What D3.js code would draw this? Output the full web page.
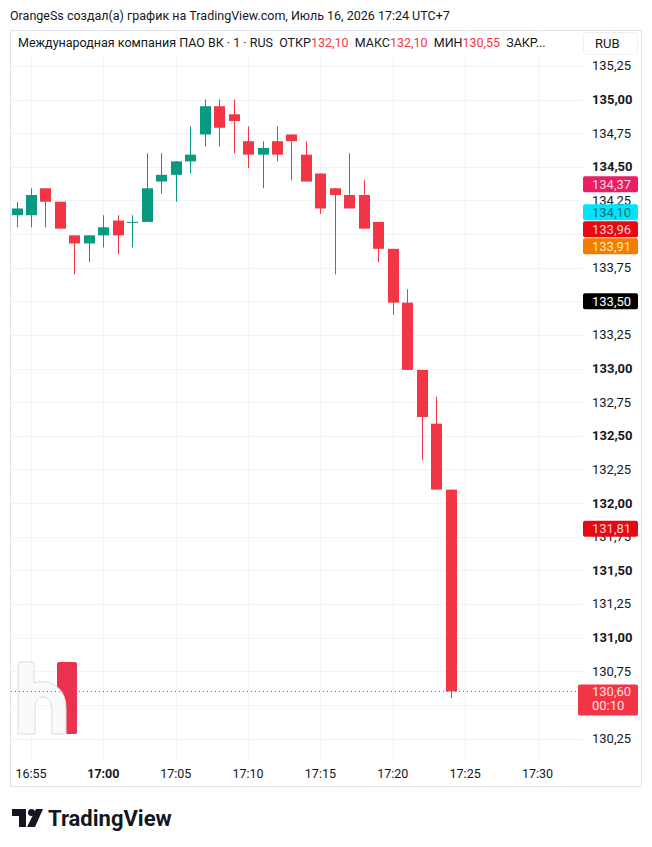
<!DOCTYPE html>
<html>
<head>
<meta charset="utf-8">
<script src="https://cdnjs.cloudflare.com/ajax/libs/d3/7.8.5/d3.min.js"></script>
<style>
  html, body { margin: 0; padding: 0; background: #fff; }
  svg { display: block; font-family: Roboto, "Noto Sans", sans-serif; }
</style>
</head>
<body>
<div id="chart"></div>
<script>
// 1-minute bars, VK, 16:54 - 17:24
const times = ['16:54', '16:55', '16:56', '16:57', '16:58', '16:59', '17:00', '17:01', '17:02', '17:03',
    '17:04', '17:05', '17:06', '17:07', '17:08', '17:09', '17:10', '17:11', '17:12', '17:13',
    '17:14', '17:15', '17:16', '17:17', '17:18', '17:19', '17:20', '17:21', '17:22', '17:23', '17:24'];
const opens = [134.14, 134.14, 134.34, 134.24, 133.99, 133.93, 133.99, 134.10, 134.09, 134.09,
    134.39, 134.44, 134.54, 134.74, 134.95, 134.89, 134.69, 134.59, 134.69, 134.74,
    134.59, 134.45, 134.34, 134.29, 134.29, 134.09, 133.89, 133.49, 132.99, 132.59, 132.10];
const highs = [134.24, 134.34, 134.34, 134.24, 133.99, 133.99, 134.14, 134.14, 134.14, 134.60,
    134.60, 134.54, 134.80, 135.00, 135.00, 135.00, 134.80, 134.69, 134.80, 134.74,
    134.69, 134.45, 134.34, 134.60, 134.40, 134.09, 133.89, 133.59, 132.99, 132.79, 132.10];
const lows = [134.05, 134.05, 134.05, 134.04, 133.70, 133.79, 133.90, 133.85, 133.90, 134.09,
    134.30, 134.24, 134.45, 134.65, 134.65, 134.60, 134.49, 134.34, 134.54, 134.40,
    134.39, 134.15, 133.70, 134.19, 134.04, 133.79, 133.40, 132.99, 132.32, 132.10, 130.55];
const closes = [134.19, 134.29, 134.24, 134.04, 133.93, 133.99, 134.05, 133.99, 134.09, 134.34,
    134.44, 134.54, 134.59, 134.95, 134.79, 134.84, 134.59, 134.64, 134.59, 134.69,
    134.39, 134.19, 134.29, 134.19, 134.04, 133.89, 133.49, 132.99, 132.64, 132.10, 130.60];

const priceTicks = [130.25, 130.50, 130.75, 131.00, 131.25, 131.50, 131.75, 132.00, 132.25, 132.50,
    132.75, 133.00, 133.25, 133.50, 133.75, 134.00, 134.25, 134.50, 134.75, 135.00, 135.25];
const timeTicks = ['16:55', '17:00', '17:05', '17:10', '17:15', '17:20', '17:25', '17:30'];

// indicator price labels on the scale
const markerValues = [134.37, 134.10, 133.96, 133.91, 133.50, 131.81];
const markerColors = ['#e91e63', '#00e5ff', '#e50914', '#f57c00', '#000000', '#e50914'];
const markerTextColors = ['#ffd6e4', '#0b6b76', '#ffd0d0', '#ffe7b0', '#ffffff', '#ffd0d0'];

const lastPrice = 130.60;
const countdown = '00:10';
const legendOpen = 132.10, legendHigh = 132.10, legendLow = 130.55;

const width = 652, height = 847;
const up = '#089981', down = '#f23645', grid = '#f0f3fa', textColor = '#131722';

const fmt = v => d3.format('.2f')(v).replace('.', ',');
const parse = d3.timeParse('%H:%M');

const bars = times.map((t, i) => ({
    time: parse(t), open: opens[i], high: highs[i], low: lows[i], close: closes[i]
}));

const svg = d3.select('#chart').append('svg')
    .attr('width', width)
    .attr('height', height);

const pane = { left: 10, top: 30, right: 583, bottom: 760 };

const x = d3.scaleTime()
    .domain([parse('16:55'), parse('17:30')])
    .range([31, 537.5]);
const y = d3.scaleLinear()
    .domain([130.25, 135])
    .range([738.5, 99.5]);

// title
svg.append('text')
    .attr('x', 10).attr('y', 20)
    .attr('font-size', 12.5).attr('fill', textColor)
    .text('OrangeSs создал(а) график на TradingView.com, Июль 16, 2026 17:24 UTC+7');

// frame
svg.append('rect')
    .attr('x', 10.5).attr('y', 30.5)
    .attr('width', 631).attr('height', 756)
    .attr('fill', 'none').attr('stroke', '#e0e3eb');

//grid
const gridG = svg.append('g');
gridG.selectAll('.hgrid').data(priceTicks).enter().append('line')
    .attr('class', 'hgrid')
    .attr('x1', pane.left + 1).attr('x2', pane.right)
    .attr('y1', d => Math.round(y(d)) + 0.5).attr('y2', d => Math.round(y(d)) + 0.5)
    .attr('stroke', grid);
gridG.selectAll('.vgrid').data(timeTicks).enter().append('line')
    .attr('class', 'vgrid')
    .attr('x1', d => Math.round(x(parse(d))) + 0.5).attr('x2', d => Math.round(x(parse(d))) + 0.5)
    .attr('y1', pane.top + 1).attr('y2', pane.bottom)
    .attr('stroke', grid);

// watermark logo
const logo = svg.append('g');
logo.append('rect')
    .attr('x', 57).attr('y', 662).attr('width', 20).attr('height', 72).attr('rx', 2)
    .attr('fill', '#e8324f');
logo.append('path')
    .attr('d', 'M20,662 H32 Q34,662 34,664 V683 C44,679 66,683 66,708 V734 H52 V712 C52,701 48,697 43,697 C38,697 35,701 35,706 V734 H18 V664 Q18,662 20,662 Z')
    .attr('fill', '#fafafa').attr('stroke', '#dcdcdc').attr('stroke-width', 1);

// last price line
svg.append('line')
    .attr('x1', pane.left + 1).attr('x2', pane.right)
    .attr('y1', Math.round(y(lastPrice)) + 0.5).attr('y2', Math.round(y(lastPrice)) + 0.5)
    .attr('stroke', down).attr('stroke-dasharray', '1 3');

// candles
const candles = svg.append('g').selectAll('g').data(bars).enter().append('g');
candles.append('line')
    .attr('x1', d => Math.round(x(d.time)) + 0.5).attr('x2', d => Math.round(x(d.time)) + 0.5)
    .attr('y1', d => y(d.high)).attr('y2', d => y(d.low))
    .attr('stroke', d => d.close >= d.open ? up : down);
candles.append('rect')
    .attr('x', d => Math.round(x(d.time)) - 5)
    .attr('width', 11)
    .attr('y', d => y(Math.max(d.open, d.close)))
    .attr('height', d => Math.max(1, Math.abs(y(d.open) - y(d.close))))
    .attr('fill', d => d.close >= d.open ? up : down);

// marker badges, pushed apart so they do not overlap
const markers = markerValues.map((v, i) => ({ v, color: markerColors[i], tc: markerTextColors[i], cy: y(v) }))
    .sort((a, b) => b.cy - a.cy);
markers.forEach((m, i) => {
    if (i > 0 && markers[i - 1].cy - m.cy < 17) m.cy = markers[i - 1].cy - 17;
});
const ly = y(lastPrice);

// scale labels hidden when a badge sits right on top of them
const covered = d => markers.some(m => Math.abs(m.cy - y(d)) < 8) ||
    (y(d) > ly - 8 && y(d) < ly + 24);

svg.append('g').selectAll('text').data(priceTicks.filter(d => !covered(d))).enter().append('text')
    .attr('x', 592).attr('y', d => y(d) + 4.5)
    .attr('font-size', 13)
    .attr('font-weight', d => Math.round(d * 100) % 50 === 0 ? 'bold' : 'normal')
    .attr('fill', textColor)
    .text(fmt);

// time labels
svg.append('g').selectAll('text').data(timeTicks).enter().append('text')
    .attr('x', d => x(parse(d))).attr('y', 778)
    .attr('text-anchor', 'middle')
    .attr('font-size', 12.5)
    .attr('font-weight', d => d.endsWith(':00') ? 'bold' : 'normal')
    .attr('fill', textColor)
    .text(d => d);

const mg = svg.append('g').selectAll('g').data(markers).enter().append('g');
mg.append('rect')
    .attr('x', 583).attr('width', 55)
    .attr('y', d => d.cy - 8).attr('height', 16).attr('rx', 2)
    .attr('fill', d => d.color);
mg.append('text')
    .attr('x', 592).attr('y', d => d.cy + 4.5)
    .attr('font-size', 13).attr('fill', d => d.tc)
    .text(d => fmt(d.v));

// last price badge with countdown
svg.append('rect')
    .attr('x', 578).attr('y', ly - 7).attr('width', 60).attr('height', 31).attr('rx', 2)
    .attr('fill', down);
svg.append('text')
    .attr('x', 592).attr('y', ly + 5)
    .attr('font-size', 13).attr('fill', '#ffe1e4')
    .text(fmt(lastPrice));
svg.append('text')
    .attr('x', 592).attr('y', ly + 19)
    .attr('font-size', 13).attr('fill', '#ffe1e4')
    .text(countdown);

// legend
svg.append('rect')
    .attr('x', 12).attr('y', 32).attr('width', 544).attr('height', 22)
    .attr('fill', '#fff').attr('fill-opacity', 0.85);
const legend = svg.append('text')
    .attr('x', 18).attr('y', 47)
    .attr('font-size', 12.5).attr('fill', textColor)
    .style('white-space', 'pre');
legend.append('tspan').text('Международная компания ПАО ВК · 1 · RUS  ОТКР');
legend.append('tspan').attr('fill', down).text(fmt(legendOpen));
legend.append('tspan').text('  МАКС');
legend.append('tspan').attr('fill', down).text(fmt(legendHigh));
legend.append('tspan').text('  МИН');
legend.append('tspan').attr('fill', down).text(fmt(legendLow));
legend.append('tspan').text('  ЗАКР...');

svg.append('rect')
    .attr('x', 583.5).attr('y', 32.5).attr('width', 54).attr('height', 22).attr('rx', 3)
    .attr('fill', '#fff').attr('stroke', '#eef0f4');
svg.append('text')
    .attr('x', 595).attr('y', 48)
    .attr('font-size', 13).attr('fill', textColor)
    .text('RUB');

// TradingView logo
const tv = svg.append('g').attr('transform', 'translate(12,809)');
tv.append('path').attr('d', 'M0,0 H14 V18 H7 V7 H0 Z').attr('fill', textColor);
tv.append('circle').attr('cx', 19.5).attr('cy', 3.5).attr('r', 3.5).attr('fill', textColor);
tv.append('path').attr('d', 'M24,0 H31 L23,18 H15 Z').attr('fill', textColor);
svg.append('text')
    .attr('x', 48).attr('y', 826)
    .attr('font-size', 22).attr('font-weight', 'bold')
    .attr('fill', textColor)
    .text('TradingView');
</script>
</body>
</html>
